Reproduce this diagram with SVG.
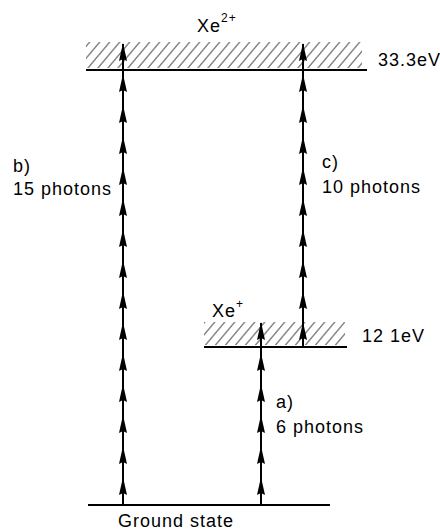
<svg xmlns="http://www.w3.org/2000/svg" width="440" height="531" viewBox="0 0 440 531">
<style>
.lvl{stroke:#000;stroke-width:2;fill:none}
.arr{stroke:#000;stroke-width:2;fill:none}
.t{font-family:"Liberation Sans",Arial,sans-serif;font-size:18px;letter-spacing:1px;fill:#000}
</style>
<defs>
<pattern id="hatch" width="10" height="40" patternUnits="userSpaceOnUse" patternTransform="skewX(-40)">
<line x1="5" y1="-5" x2="5" y2="45" stroke="#000" stroke-width="0.9"/>
</pattern>
<path id="hd" d="M0,0 L4,18 L0,16 L-4,18 Z" fill="#000"/>
</defs>
<g id="level-xe2">
<rect x="86" y="42" width="276" height="26" fill="url(#hatch)"/>
<line class="lvl" x1="86" y1="70" x2="367" y2="70"/>
<text class="t" x="197" y="32">Xe<tspan font-size="12" dy="-10">2+</tspan></text>
<text class="t" x="378" y="66" letter-spacing="0">33.3eV</text>
</g>
<g id="level-xe1">
<rect x="204" y="322" width="141" height="23" fill="url(#hatch)"/>
<line class="lvl" x1="204" y1="347" x2="347" y2="347"/>
<text class="t" x="212" y="317">Xe<tspan font-size="12" dy="-9">+</tspan></text>
<text class="t" x="362" y="342">12 1eV</text>
</g>
<g id="level-ground">
<line class="lvl" x1="88" y1="505" x2="330" y2="505"/>
<text class="t" x="118" y="527" font-size="19">Ground state</text>
</g>
<g id="connectors">
<g id="arrow-b">
<line class="arr" x1="123" y1="505" x2="123" y2="44"/>
<use href="#hd" x="123" y="43"/><use href="#hd" x="123" y="74"/><use href="#hd" x="123" y="105"/><use href="#hd" x="123" y="136"/><use href="#hd" x="123" y="167"/><use href="#hd" x="123" y="198"/><use href="#hd" x="123" y="229"/><use href="#hd" x="123" y="260"/><use href="#hd" x="123" y="291"/><use href="#hd" x="123" y="322"/><use href="#hd" x="123" y="353"/><use href="#hd" x="123" y="384"/><use href="#hd" x="123" y="415"/><use href="#hd" x="123" y="446"/><use href="#hd" x="123" y="477"/>
</g>
<g id="arrow-c">
<line class="arr" x1="303" y1="347" x2="303" y2="44"/>
<use href="#hd" x="303" y="43"/><use href="#hd" x="303" y="74"/><use href="#hd" x="303" y="105"/><use href="#hd" x="303" y="136"/><use href="#hd" x="303" y="167"/><use href="#hd" x="303" y="198"/><use href="#hd" x="303" y="229"/><use href="#hd" x="303" y="260"/><use href="#hd" x="303" y="291"/><use href="#hd" x="303" y="322"/>
</g>
<g id="arrow-a">
<line class="arr" x1="261" y1="505" x2="261" y2="323"/>
<use href="#hd" x="261" y="322"/><use href="#hd" x="261" y="353"/><use href="#hd" x="261" y="384"/><use href="#hd" x="261" y="415"/><use href="#hd" x="261" y="446"/><use href="#hd" x="261" y="477"/>
</g>
</g>
<g id="labels">
<text class="t" x="13" y="172">b)</text>
<text class="t" x="13" y="195">15 photons</text>
<text class="t" x="322" y="168">c)</text>
<text class="t" x="322" y="193">10 photons</text>
<text class="t" x="276" y="408">a)</text>
<text class="t" x="276" y="433">6 photons</text>
</g>
</svg>
